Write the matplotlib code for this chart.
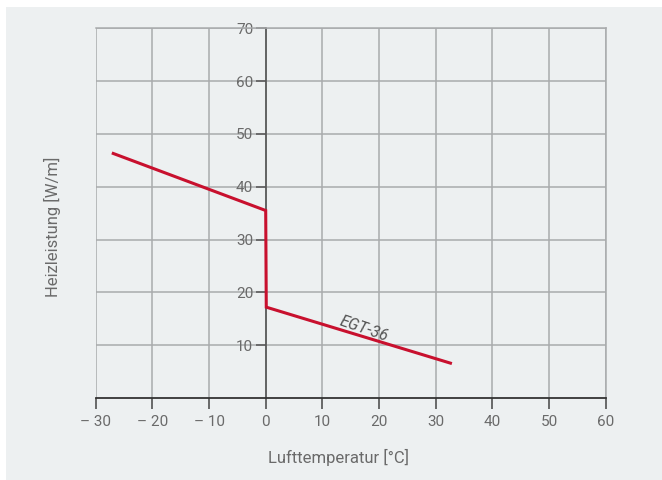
import matplotlib
matplotlib.use("Agg")
import matplotlib.pyplot as plt
from matplotlib.patches import Rectangle

# Data
temp = [-26.9, 0.0, 0.1, 32.6]
power = [46.3, 35.5, 17.2, 6.6]
series_label = "EGT-36"
x_ticks = [-30, -20, -10, 0, 10, 20, 30, 40, 50, 60]
x_tick_labels = ["– 30", "– 20", "– 10", "0", "10", "20", "30", "40", "50", "60"]
y_ticks = [10, 20, 30, 40, 50, 60, 70]
y_tick_labels = ["10", "20", "30", "40", "50", "60", "70"]
x_label = "Lufttemperatur [°C]"
y_label = "Heizleistung [W/m]"

plt.rcParams['font.family'] = ['Roboto', 'DejaVu Sans']

W, H = 662, 480
fig = plt.figure(figsize=(W / 100, H / 100), dpi=100)
fig.patch.set_facecolor("white")
bg = "#edf0f1"
fig.add_artist(Rectangle((6 / W, 0), 1 - 6 / W, (H - 7) / H,
                         transform=fig.transFigure, facecolor=bg,
                         edgecolor="none", zorder=-10))

left, right = 95.7, 605.7
top, bottom = 28.3, 398.0
ax = fig.add_axes([left / W, (H - bottom) / H, (right - left) / W, (bottom - top) / H])
ax.set_facecolor(bg)
ax.set_xlim(-30, 60)
ax.set_ylim(0, 70)

grid_c = "#a9abad"
ax.set_xticks(x_ticks)
ax.set_xticklabels(x_tick_labels)
ax.set_yticks(y_ticks)
ax.set_yticklabels(y_tick_labels)
ax.grid(True, color=grid_c, linewidth=1.1, zorder=1)
ax.set_axisbelow(True)

for s in ["top", "right"]:
    ax.spines[s].set_color(grid_c)
    ax.spines[s].set_linewidth(1.1)
ax.spines["left"].set_position(("data", 0))
ax.spines["left"].set_color("#555555")
ax.spines["left"].set_linewidth(1.2)
ax.spines["bottom"].set_color("#333333")
ax.spines["bottom"].set_linewidth(1.3)

ax.tick_params(axis="x", direction="out", length=8, width=1.1, color="#444444",
               labelsize=11, labelcolor="#6a6a6a", pad=4)
ax.tick_params(axis="y", direction="out", length=7, width=1.1, color="#555555",
               labelsize=11, labelcolor="#6a6a6a", pad=2)

ax.plot(temp, power, color="#c8102e", linewidth=2.2, zorder=3,
        solid_joinstyle="miter", clip_on=False)

ax.text(17.4, 13.1, series_label, rotation=-19, style="italic", fontsize=11.5,
        color="#555555", ha="center", va="center", zorder=4)

fig.text(338 / W, 1 - 457 / H, x_label, ha="center", va="center",
         fontsize=12, color="#6a6a6a")
fig.text(52 / W, 1 - 227 / H, y_label, ha="center", va="center",
         rotation=90, fontsize=12, color="#6a6a6a")

fig.savefig("out.png", dpi=100, facecolor=fig.get_facecolor())
